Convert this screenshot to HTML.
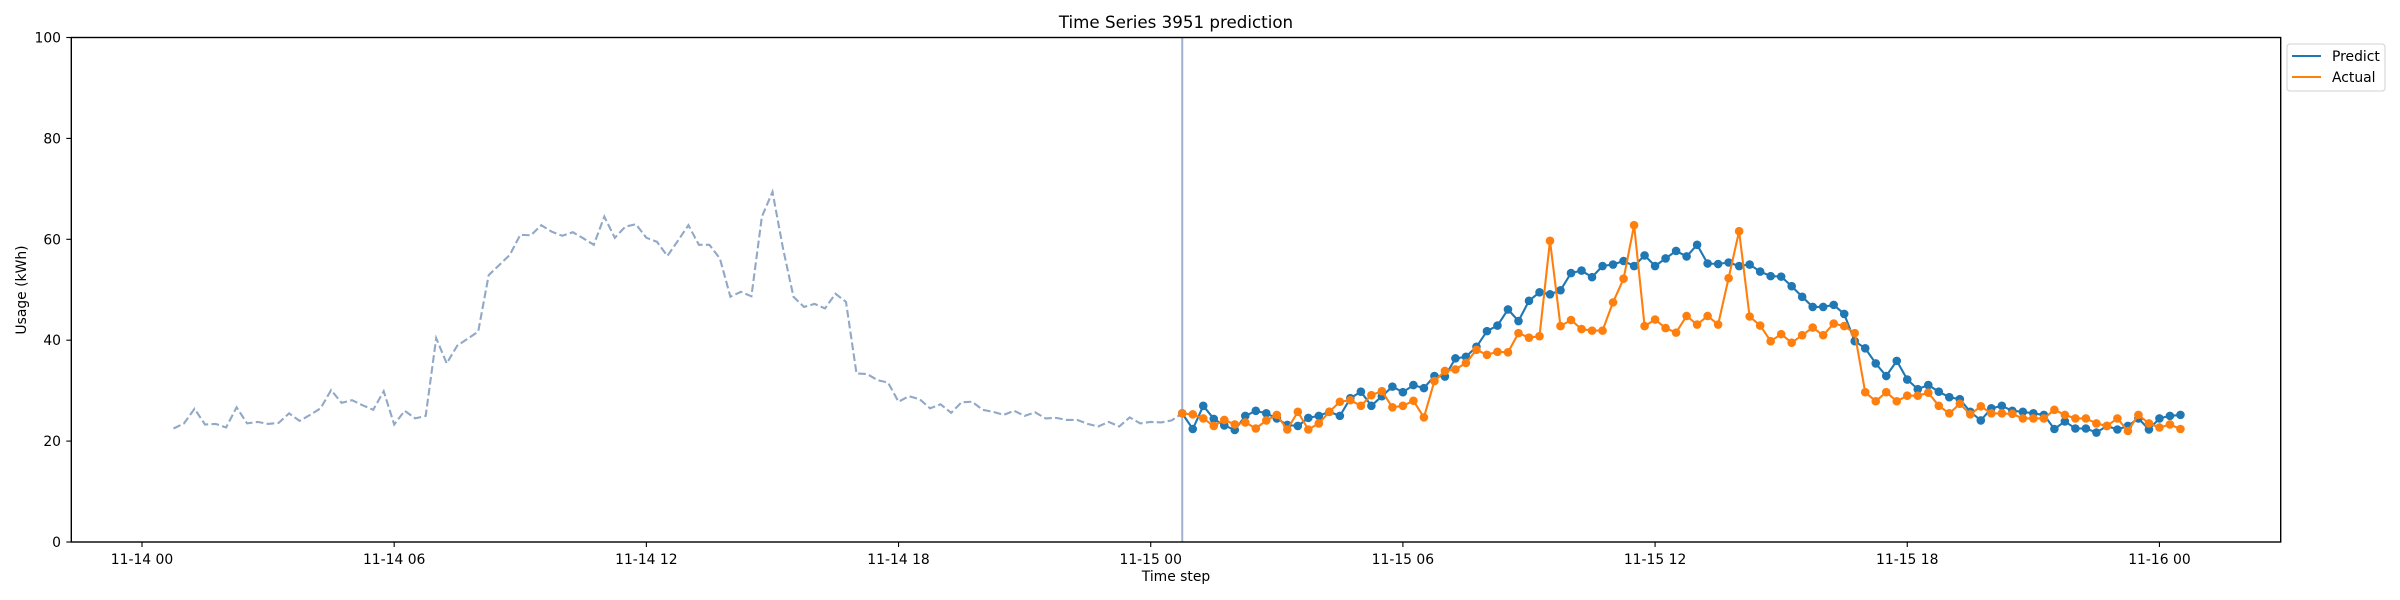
<!DOCTYPE html>
<html><head><meta charset="utf-8">
<style>
html,body{margin:0;padding:0;background:#fff;}
svg{display:block;font-family:"DejaVu Sans","Liberation Sans",sans-serif;}
</style></head>
<body>
<svg id="chart" width="2400" height="600" viewBox="0 0 2400 600" xmlns="http://www.w3.org/2000/svg">
<rect x="0" y="0" width="2400" height="600" fill="#fff"/>
<text x="1176" y="28" text-anchor="middle" font-size="16.7" fill="#000">Time Series 3951 prediction</text>
<g id="plot"></g>
<rect x="71.3" y="37.5" width="2209.4" height="504.5" fill="none" stroke="#000" stroke-width="1.4"/>
<g id="axes"></g>
<text x="1176" y="581" text-anchor="middle" font-size="13.9" fill="#000">Time step</text>
<text transform="translate(26,290) rotate(-90)" text-anchor="middle" font-size="13.9" fill="#000">Usage (kWh)</text>
<g>
<rect x="2287" y="44" width="98" height="47" rx="3" fill="#fff" stroke="#d0d0d0" stroke-width="1"/>
<line x1="2292" y1="56" x2="2321" y2="56" stroke="#1f77b4" stroke-width="2.1"/>
<text x="2332" y="61" font-size="13.9">Predict</text>
<line x1="2292" y1="77" x2="2321" y2="77" stroke="#ff7f0e" stroke-width="2.1"/>
<text x="2332" y="82" font-size="13.9">Actual</text>
</g>
</svg>
<script>
// history values, 15-min steps starting 11-14 00:45
const history = [22.5,23.5,26.4,23.3,23.4,22.7,26.7,23.5,23.8,23.4,23.6,25.5,24.0,25.2,26.5,30.1,27.6,28.1,27.1,26.2,29.9,23.3,26.0,24.5,25.0,40.4,35.4,38.9,40.3,41.7,52.9,54.9,56.9,60.9,60.8,62.8,61.5,60.7,61.4,60.2,58.9,64.5,60.3,62.5,63.0,60.3,59.5,56.7,59.7,62.8,58.9,58.9,56.2,48.6,49.6,48.7,64.5,69.4,58.2,48.6,46.6,47.2,46.3,49.2,47.6,33.4,33.3,32.1,31.6,27.8,28.9,28.3,26.5,27.3,25.6,27.7,27.8,26.2,25.8,25.2,26.0,25.0,25.7,24.5,24.6,24.2,24.2,23.4,22.9,23.8,22.9,24.7,23.5,23.8,23.7,24.1,25.5];
// forecast values, starting 11-15 00:45
const predict = [25.5,22.4,27.0,24.4,23.1,22.2,25.0,26.0,25.5,24.5,23.2,23.0,24.6,25.0,25.8,25.0,28.5,29.8,27.0,28.9,30.8,29.7,31.1,30.5,32.9,32.8,36.4,36.7,38.7,41.8,42.9,46.1,43.8,47.8,49.5,49.1,49.9,53.3,53.8,52.5,54.7,55.0,55.7,54.7,56.8,54.7,56.2,57.7,56.6,58.9,55.2,55.1,55.4,54.7,55.0,53.6,52.7,52.6,50.7,48.6,46.6,46.6,47.0,45.2,39.8,38.4,35.4,32.9,35.9,32.2,30.3,31.1,29.8,28.7,28.3,25.8,24.1,26.5,27.0,26.0,25.8,25.5,25.2,22.4,23.9,22.5,22.5,21.7,23.0,22.3,23.0,24.5,22.3,24.5,25.0,25.2];
const actual = [25.5,25.3,24.5,23.0,24.2,23.3,23.7,22.5,24.1,25.2,22.3,25.8,22.3,23.5,25.8,27.8,28.1,27.0,29.1,29.9,26.7,27.0,28.0,24.7,31.9,33.9,34.2,35.5,38.1,37.1,37.7,37.6,41.4,40.5,40.8,59.7,42.8,44.0,42.2,41.9,41.9,47.5,52.2,62.8,42.8,44.1,42.4,41.5,44.8,43.1,44.8,43.1,52.3,61.6,44.7,42.9,39.8,41.2,39.5,41.0,42.5,41.0,43.3,42.8,41.4,29.7,27.9,29.7,27.9,29.0,29.0,29.6,27.0,25.5,27.4,25.3,26.9,25.5,25.5,25.4,24.5,24.5,24.5,26.2,25.2,24.5,24.5,23.5,23.0,24.5,22.0,25.2,23.5,22.7,23.3,22.4];
const xTickLabels = ["11-14 00","11-14 06","11-14 12","11-14 18","11-15 00","11-15 06","11-15 12","11-15 18","11-16 00"];
const yTickLabels = [0,20,40,60,80,100];
const historyStartHour = 0.75;
const forecastStartHour = 24.75;

const NS = "http://www.w3.org/2000/svg";
const X0 = 142, PXH = 42.03; // hours since 11-14 00
function xh(h){ return X0 + h*PXH; }
function yv(v){ return 542 - v*5.045; }
function mk(tag, attrs, parent){
  const e = document.createElementNS(NS, tag);
  for (const k in attrs) e.setAttribute(k, attrs[k]);
  parent.appendChild(e); return e;
}
const plot = document.getElementById('plot');
const axes = document.getElementById('axes');

xTickLabels.forEach((lab,i)=>{
  const x = xh(i*6);
  const t = mk('line',{x1:x,y1:542,x2:x,y2:547,stroke:'#000','stroke-width':1.1},axes);
  
  
  const tx = mk('text',{x:x,y:564,'text-anchor':'middle','font-size':13.9},axes);
  tx.textContent = lab;
  
  
});
yTickLabels.forEach(v=>{
  const y = yv(v);
  const t = mk('line',{x1:66.3,y1:y,x2:71.3,y2:y,stroke:'#000','stroke-width':1.1},axes);
  
  
  const tx = mk('text',{x:61,y:y+5,'text-anchor':'end','font-size':13.9},axes);
  tx.textContent = v;
  
  
});

const hp = history.map((v,i)=>xh(historyStartHour+i*0.25).toFixed(1)+','+yv(v).toFixed(1)).join(' ');
const hl = mk('polyline',{points:hp,fill:'none',stroke:'#91a8c6','stroke-width':2.1,'stroke-dasharray':'7.7,3.3'},plot);



const vx = xh(forecastStartHour);
const vl = mk('line',{x1:vx,y1:38,x2:vx,y2:542,stroke:'#a2b0d0','stroke-width':2},plot);



function series(vals,color,name){
  const g = mk('g',{},plot);
  
  
  const pts = vals.map((v,i)=>xh(forecastStartHour+i*0.25).toFixed(1)+','+yv(v).toFixed(1)).join(' ');
  const l = mk('polyline',{points:pts,fill:'none',stroke:color,'stroke-width':2.1},g);
  
  
  vals.forEach((v,i)=>{
    const c = mk('circle',{cx:xh(forecastStartHour+i*0.25),cy:yv(v),r:4.3,fill:color},g);
    
    
  });
}
series(predict,'#1f77b4','predict');
series(actual,'#ff7f0e','actual');
</script>
</body></html>
